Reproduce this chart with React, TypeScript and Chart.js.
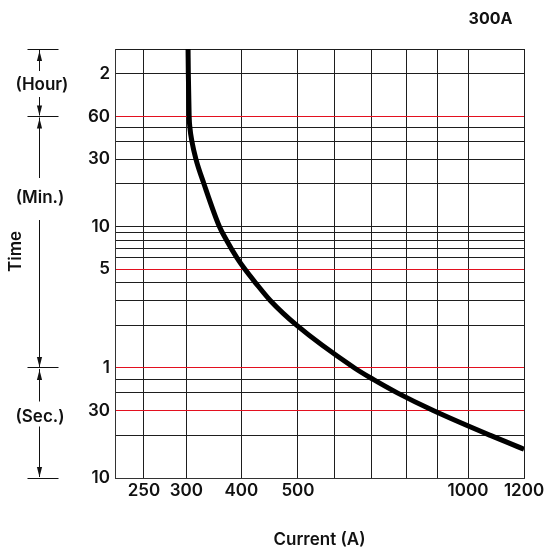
import { useEffect, useRef } from 'react';
import { Chart, LinearScale, registerables } from 'chart.js';

Chart.register(...registerables);

// ---- data ----
const currentA = [303, 303.5, 305, 306.4, 310, 317.3, 332, 360, 373, 392, 406, 425, 451, 498, 654, 704, 774, 885, 1080, 1200];
const timeSec = [10800, 7200, 3600, 3000, 2400, 1800, 1200, 600, 480, 360, 300, 240, 180, 120, 60, 50, 40, 30, 20, 16];

const xGridValues = [200, 250, 300, 400, 500, 600, 700, 800, 900, 1000, 1200];
const xLabelledValues = [250, 300, 400, 500, 1000, 1200];
// the printed current axis is not a plain linear/log scale: relative place of each grid value
const xAxisFractions = [0, 0.0709, 0.1746, 0.309, 0.4474, 0.5372, 0.6269, 0.7125, 0.7897, 0.8631, 1];

const yGridValues = [10, 20, 30, 40, 50, 60, 120, 180, 240, 300, 360, 420, 480, 540, 600, 1200, 1800, 2400, 3000, 3600, 7200, 10800];
const yLabelValues = [10, 30, 60, 300, 600, 1800, 3600, 7200];
const yLabelTexts = ['10', '30', '1', '5', '10', '30', '60', '2'];
const redLineValues = [30, 60, 300, 3600];

const FONT = 'Inter, "Liberation Sans", Arial, sans-serif';
const RED = '#e3101f';
const GRID = '#1e1e1e';

function warp(v: number): number {
  const xs = xGridValues, fs = xAxisFractions;
  const n = xs.length - 1;
  let i = 1;
  while (i < n && v > xs[i]) i++;
  const t = (v - xs[i - 1]) / (xs[i] - xs[i - 1]);
  return fs[i - 1] + t * (fs[i] - fs[i - 1]);
}
function unwarp(f: number): number {
  const xs = xGridValues, fs = xAxisFractions;
  const n = xs.length - 1;
  let i = 1;
  while (i < n && f > fs[i]) i++;
  const t = (f - fs[i - 1]) / (fs[i] - fs[i - 1]);
  return xs[i - 1] + t * (xs[i] - xs[i - 1]);
}

class WarpedScale extends LinearScale {
  static id = 'warped';
  static defaults = {};
  getPixelForValue(value: any) {
    if (value === null || value === undefined || isNaN(value)) return NaN;
    return this.getPixelForDecimal(warp(value));
  }
  getValueForPixel(pixel: number) {
    return unwarp(this.getDecimalForPixel(pixel));
  }
}
Chart.register(WarpedScale as any);

const annotations = {
  id: 'annotations',
  afterDraw(chart: any) {
    const ctx = chart.ctx as CanvasRenderingContext2D;
    const y = chart.scales.y;
    const yTop = y.getPixelForValue(10800);
    const yHour = y.getPixelForValue(3600);
    const yMin = y.getPixelForValue(60);
    const yBot = y.getPixelForValue(10);
    const lx = 39.5;
    ctx.save();
    ctx.strokeStyle = '#111';
    ctx.fillStyle = '#111';
    ctx.lineWidth = 1;
    [yTop, yHour, yMin, yBot].forEach((yy) => {
      const py = Math.round(yy - 0.5) + 0.5;
      ctx.beginPath();
      ctx.moveTo(27.5, py);
      ctx.lineTo(58.5, py);
      ctx.stroke();
    });
    const seg = (a: number, b: number) => {
      ctx.beginPath();
      ctx.moveTo(lx, a);
      ctx.lineTo(lx, b);
      ctx.stroke();
    };
    const arrow = (tip: number, dir: number) => {
      ctx.beginPath();
      ctx.moveTo(lx, tip);
      ctx.lineTo(lx - 2.6, tip + dir * 10);
      ctx.lineTo(lx + 2.6, tip + dir * 10);
      ctx.closePath();
      ctx.fill();
    };
    const brackets = [
      { a: yTop, b: yHour, text: '(Hour)', cy: 85, g1: 14, g2: 12, cx: 42 },
      { a: yHour, b: yMin, text: '(Min.)', cy: 198, g1: 20, g2: 22, cx: 40 },
      { a: yMin, b: yBot, text: '(Sec.)', cy: 416.5, g1: 15, g2: 10, cx: 40 },
    ];
    ctx.font = `600 17px ${FONT}`;
    ctx.textAlign = 'center';
    ctx.textBaseline = 'middle';
    brackets.forEach((br) => {
      seg(br.a + 1, br.cy - br.g1);
      seg(br.cy + br.g2, br.b - 1);
      arrow(br.a + 2, 1);
      arrow(br.b - 1, -1);
      ctx.fillText(br.text, br.cx, br.cy);
    });
    ctx.save();
    ctx.translate(15.5, 251.5);
    ctx.rotate(-Math.PI / 2);
    ctx.fillText('Time', 0, 0);
    ctx.restore();
    ctx.font = `700 16px ${FONT}`;
    ctx.fillText('300A', 490.5, 19);
    ctx.restore();
  },
};

export default function App() {
  const canvasRef = useRef<HTMLCanvasElement | null>(null);

  useEffect(() => {
    const canvas = canvasRef.current;
    if (!canvas) return;
    const points = currentA.map((c, i) => ({ x: c, y: timeSec[i] }));
    const yGridColors = yGridValues.map((v) => (redLineValues.includes(v) ? RED : GRID));
    const chart = new Chart(canvas, {
      type: 'line',
      data: {
        datasets: [
          {
            data: points,
            borderColor: '#000',
            borderWidth: 5,
            pointRadius: 0,
            cubicInterpolationMode: 'monotone',
            fill: false,
          },
        ],
      },
      options: {
        animation: false,
        responsive: false,
        devicePixelRatio: 1,
        layout: { padding: { top: 49, right: 25, bottom: 0, left: 0 } },
        plugins: { legend: { display: false }, tooltip: { enabled: false } },
        scales: {
          x: {
            type: 'warped' as any,
            min: 200,
            max: 1200,
            afterFit: (s: any) => { s.height = 77; },
            afterBuildTicks: (s: any) => { s.ticks = xGridValues.map((v) => ({ value: v })); },
            ticks: {
              autoSkip: false,
              maxRotation: 0,
              padding: 3,
              color: '#111',
              font: { family: FONT, size: 17, weight: '600' as any },
              callback: (v: any) => (xLabelledValues.includes(Number(v)) ? String(v) : ''),
            },
            grid: { color: GRID, lineWidth: 1, drawTicks: false },
            border: { display: true, color: '#333', width: 1 },
            title: {
              display: true,
              text: 'Current (A)',
              color: '#111',
              font: { family: FONT, size: 17, weight: '600' as any },
              padding: { top: 0, bottom: 5 },
            },
          },
          y: {
            type: 'logarithmic',
            min: 10,
            max: 10800,
            afterFit: (s: any) => { s.width = 115; },
            afterBuildTicks: (s: any) => { s.ticks = yGridValues.map((v) => ({ value: v })); },
            ticks: {
              autoSkip: false,
              padding: 5,
              color: '#111',
              font: { family: FONT, size: 17, weight: '600' as any },
              callback: (v: any) => {
                const i = yLabelValues.indexOf(Number(v));
                return i >= 0 ? yLabelTexts[i] : '';
              },
            },
            grid: { color: yGridColors, lineWidth: 1, drawTicks: false },
            border: { display: true, color: '#333', width: 1 },
          },
        },
      },
      plugins: [annotations],
    } as any);
    return () => chart.destroy();
  }, []);

  return (
    <div style={{ position: 'fixed', left: 0, top: 0, width: 549, height: 555, background: '#fff' }}>
      <canvas ref={canvasRef} width={549} height={555} style={{ width: 549, height: 555, display: 'block' }} />
    </div>
  );
}
